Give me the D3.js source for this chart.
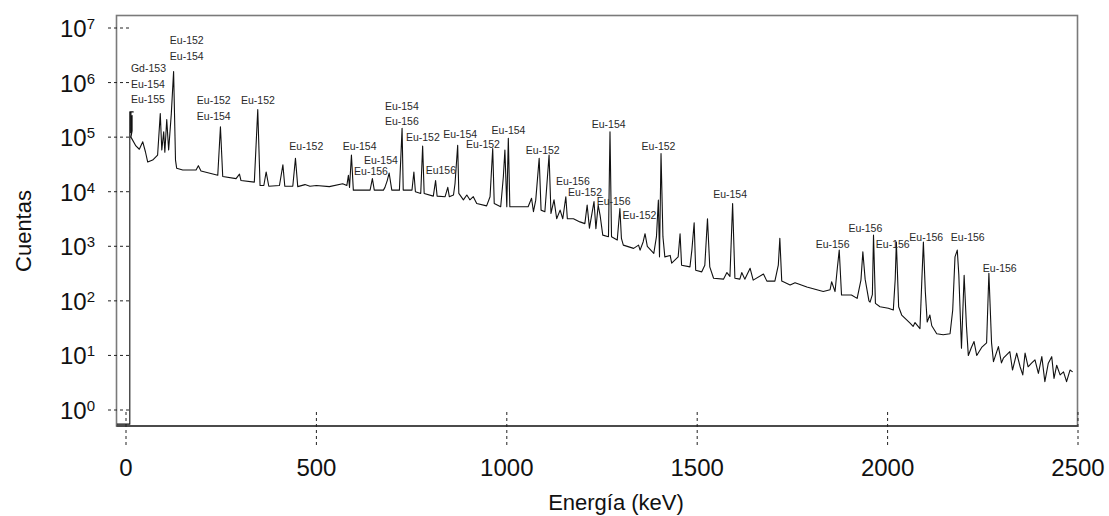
<!DOCTYPE html>
<html>
<head>
<meta charset="utf-8">
<script src="https://cdn.jsdelivr.net/npm/d3@7"></script>
<style>
  body { margin: 0; background: #fff; }
  text { font-family: "Liberation Sans", Arial, sans-serif; }
</style>
</head>
<body>
<svg width="1109" height="516"></svg>
<script>
// espectro: energia (keV) y cuentas
const energia = [
  -24, 10, 10, 19, 13, 13, 16, 16, 13,
  26, 35, 44, 51, 57, 70, 83, 90, 94, 99, 102, 107, 112, 119, 125, 130, 133,
  149, 184, 190, 197, 241, 248, 254, 289, 298, 302, 337, 346, 352, 362, 368,
  375, 403, 412, 417, 438, 445, 451, 470, 483, 500, 534, 569, 580, 584, 587,
  592, 597, 607, 641, 647, 652, 676, 680, 686, 691, 698, 718, 725, 728, 751,
  756, 760, 774, 779, 783, 807, 813, 817, 838, 845, 849, 860, 864, 871, 874,
  886, 895, 903, 912, 921, 947, 956, 963, 967, 984, 991, 995, 1000, 1004,
  1008, 1056, 1065, 1070, 1076, 1085, 1090, 1100, 1111, 1116, 1124, 1131,
  1140, 1147, 1155, 1159, 1175, 1192, 1205, 1211, 1217, 1229, 1234, 1240,
  1245, 1252, 1267, 1271, 1275, 1290, 1297, 1301, 1306, 1333, 1346, 1350,
  1358, 1363, 1369, 1386, 1393, 1398, 1401, 1405, 1410, 1415, 1429, 1433,
  1450, 1455, 1459, 1481, 1486, 1492, 1496, 1512, 1520, 1527, 1533, 1543,
  1569, 1578, 1586, 1593, 1599, 1612, 1617, 1625, 1639, 1647, 1674, 1683,
  1704, 1713, 1717, 1722, 1744, 1757, 1788, 1831, 1849, 1853, 1862, 1868,
  1873, 1879, 1905, 1920, 1930, 1935, 1941, 1951, 1954, 1960, 1963, 1968,
  1980, 2002, 2015, 2020, 2023, 2029, 2037, 2059, 2067, 2072, 2085, 2090,
  2094, 2099, 2104, 2111, 2116, 2129, 2146, 2164, 2171, 2177, 2183, 2187,
  2194, 2201, 2207, 2212, 2220, 2227, 2234, 2247, 2260, 2266, 2273, 2278,
  2291, 2299, 2304, 2321, 2328, 2339, 2348, 2355, 2361, 2369, 2378, 2387,
  2396, 2405, 2413, 2422, 2431, 2437, 2444, 2453, 2462, 2470, 2479, 2486
];
const cuentas = [
  0.55, 0.55, 2.9e5, 2.9e5, 2.9e5, 1.2e5, 2.5e5, 1.3e5, 1.0e5,
  6.9e4, 6.0e4, 8.2e4, 5.4e4, 3.5e4, 3.8e4, 4.7e4, 2.7e5, 5.8e4, 1.25e5, 5.3e4, 2.1e5, 5.8e4, 2.7e5, 1.6e6, 3.8e4, 2.7e4,
  2.5e4, 2.5e4, 3.0e4, 2.4e4, 2.0e4, 1.55e5, 1.9e4, 1.74e4, 2.1e4, 1.6e4, 1.5e4, 3.2e5, 1.3e4, 1.3e4, 2.3e4,
  1.26e4, 1.3e4, 3.1e4, 1.26e4, 1.26e4, 4.1e4, 1.24e4, 1.35e4, 1.26e4, 1.3e4, 1.24e4, 1.4e4, 1.3e4, 2.0e4, 1.2e4,
  4.7e4, 1.07e4, 1.07e4, 1.07e4, 1.74e4, 1.07e4, 1.07e4, 1.2e4, 1.6e4, 2.2e4, 1.07e4, 1.07e4, 1.45e5, 1.07e4, 1.07e4,
  2.3e4, 1.0e4, 9.3e3, 6.9e4, 9.3e3, 8.3e3, 1.6e4, 8.3e3, 8.1e3, 1.2e4, 8.1e3, 8.7e3, 1.4e4, 7.1e4, 9.3e3,
  7.1e3, 8.7e3, 7.1e3, 8.1e3, 6.1e3, 5.5e3, 8.1e3, 6.2e4, 6.1e3, 5.3e3, 1.9e4, 5.8e4, 5.3e3, 9.5e4,
  5.3e3, 5.3e3, 7.6e3, 4.3e3, 7.0e3, 4.1e4, 4.6e3, 4.3e3, 4.7e4, 4.0e3, 7.1e3, 3.2e3,
  4.6e3, 3.2e3, 8.1e3, 3.2e3, 3.2e3, 2.8e3, 2.6e3, 5.7e3, 2.15e3, 6.6e3, 2.1e3, 5.7e3,
  3.7e3, 1.6e3, 1.5e3, 1.25e5, 1.5e3, 1.3e3, 4.9e3, 1.4e3, 1.05e3, 915, 1.05e3, 850,
  1.2e3, 1.7e3, 1.0e3, 740, 1.5e3, 7.0e3, 640, 5.0e4, 1.5e3, 640, 680, 490,
  640, 1.7e3, 450, 420, 850, 2.7e3, 365, 340, 450, 3.2e3, 420, 260,
  250, 330, 280, 6.1e3, 260, 250, 330, 250, 395, 240, 310, 230,
  230, 450, 1.4e3, 230, 195, 215, 180, 148, 160, 224, 148, 400,
  850, 128, 128, 111, 240, 790, 250, 100, 95, 130, 1.6e3, 90,
  78, 73, 68, 250, 1.2e3, 78, 55, 39, 34, 40, 31, 250,
  1.2e3, 150, 41, 55, 35, 25, 24, 25, 68, 640, 850, 300,
  13.5, 295, 35, 10, 14, 18, 10, 14, 17, 320, 17, 7.7,
  14.5, 7.3, 8.9, 11.7, 5.4, 11, 6.2, 4.4, 11, 6.2, 7.2, 8.3,
  4.7, 9.5, 3.3, 7.2, 9.5, 3.8, 6.6, 4.4, 5.0, 3.3, 5.4, 5.0
];

const xTicks = [0, 500, 1000, 1500, 2000, 2500];
const yExps = [0, 1, 2, 3, 4, 5, 6, 7];

// etiquetas de los picos (texto, energia y cuentas del ancla)
const etiquetaTexto = [
  "Eu-152\nEu-154", "Gd-153\nEu-154\nEu-155", "Eu-152\nEu-154", "Eu-152", "Eu-152",
  "Eu-154", "Eu-154", "Eu-156", "Eu-154\nEu-156", "Eu-152", "Eu-154", "Eu156",
  "Eu-152", "Eu-154", "Eu-152", "Eu-154", "Eu-152", "Eu-156", "Eu-152", "Eu-156",
  "Eu-152", "Eu-154", "Eu-156", "Eu-156", "Eu-156", "Eu-156", "Eu-156", "Eu-156"
];
const etiquetaE = [
  115, 13, 186, 302, 429, 569, 625, 599, 680, 735, 833, 787,
  893, 960, 1050, 1223, 1354, 1129, 1161, 1236, 1304, 1542, 1811, 1897,
  1969, 2057, 2166, 2250
];
const etiquetaC = [
  5.0e6, 1.55e6, 4.0e5, 4.0e5, 5.8e4, 5.8e4, 3.2e4, 2.0e4, 3.2e5, 8.5e4, 9.5e4, 2.1e4,
  6.2e4, 1.12e5, 5.0e4, 1.45e5, 5.9e4, 1.35e4, 8.5e3, 5.6e3, 3.2e3, 7.6e3, 930, 1.8e3,
  930, 1.26e3, 1.26e3, 340
];

const svg = d3.select('svg');

const x = d3.scaleLinear().domain([0, 2500]).range([126, 1078]);
const y = d3.scaleLog().domain([1, 1e7]).range([410, 28]);

const marcoIzq = 116.5, marcoDer = 1077.5, marcoSup = 15.5, marcoInf = 426;

// marco
svg.append('rect')
  .attr('x', marcoIzq).attr('y', marcoSup)
  .attr('width', marcoDer - marcoIzq).attr('height', marcoInf - marcoSup)
  .attr('fill', 'none')
  .attr('stroke', '#7a7a7a')
  .attr('stroke-width', 1.6);

svg.append('line')
  .attr('x1', marcoIzq).attr('x2', marcoDer)
  .attr('y1', marcoInf).attr('y2', marcoInf)
  .attr('stroke', '#333')
  .attr('stroke-width', 1.6);

// ticks eje y
svg.selectAll('.ytick')
  .data(yExps)
  .enter().append('line')
  .attr('x1', 108).attr('x2', 130)
  .attr('y1', d => y(Math.pow(10, d)))
  .attr('y2', d => y(Math.pow(10, d)))
  .attr('stroke', '#222')
  .attr('stroke-dasharray', '3,3');

const ylab = svg.selectAll('.ylab')
  .data(yExps)
  .enter().append('text')
  .attr('x', 95)
  .attr('y', d => y(Math.pow(10, d)) + 9)
  .attr('text-anchor', 'end')
  .attr('fill', '#111');
ylab.append('tspan').attr('font-size', 24).text('10');
ylab.append('tspan').attr('font-size', 15).attr('dy', -8).text(d => d);

// ticks eje x
svg.selectAll('.xtick')
  .data(xTicks)
  .enter().append('line')
  .attr('x1', d => x(d)).attr('x2', d => x(d))
  .attr('y1', 412).attr('y2', 447)
  .attr('stroke', '#222')
  .attr('stroke-dasharray', '3,3');

svg.selectAll('.xlab')
  .data(xTicks)
  .enter().append('text')
  .attr('x', d => x(d))
  .attr('y', 476)
  .attr('text-anchor', 'middle')
  .attr('font-size', 24)
  .attr('fill', '#111')
  .text(d => d);

svg.append('text')
  .attr('x', 616).attr('y', 510)
  .attr('text-anchor', 'middle')
  .attr('font-size', 22)
  .attr('fill', '#111')
  .text('Energía (keV)');

svg.append('text')
  .attr('transform', 'translate(31,231) rotate(-90)')
  .attr('text-anchor', 'middle')
  .attr('font-size', 22)
  .attr('fill', '#111')
  .text('Cuentas');

// espectro
const puntos = energia.map((e, i) => [e, cuentas[i]]);

const line = d3.line()
  .x(d => x(d[0]))
  .y(d => y(d[1]));

svg.append('path')
  .attr('d', line(puntos))
  .attr('fill', 'none')
  .attr('stroke', '#111')
  .attr('stroke-width', 1.1)
  .attr('stroke-linejoin', 'round');

// etiquetas
const etq = svg.selectAll('.etq')
  .data(etiquetaTexto)
  .enter().append('text')
  .attr('font-size', 10.5)
  .attr('fill', '#2a2a2a')
  .attr('transform', (d, i) => `translate(${x(etiquetaE[i])},${y(etiquetaC[i])})`);

etq.selectAll('tspan')
  .data(d => d.split('\n'))
  .enter().append('tspan')
  .attr('x', 0)
  .attr('y', (d, i) => i * 15.5)
  .text(d => d);
</script>
</body>
</html>
